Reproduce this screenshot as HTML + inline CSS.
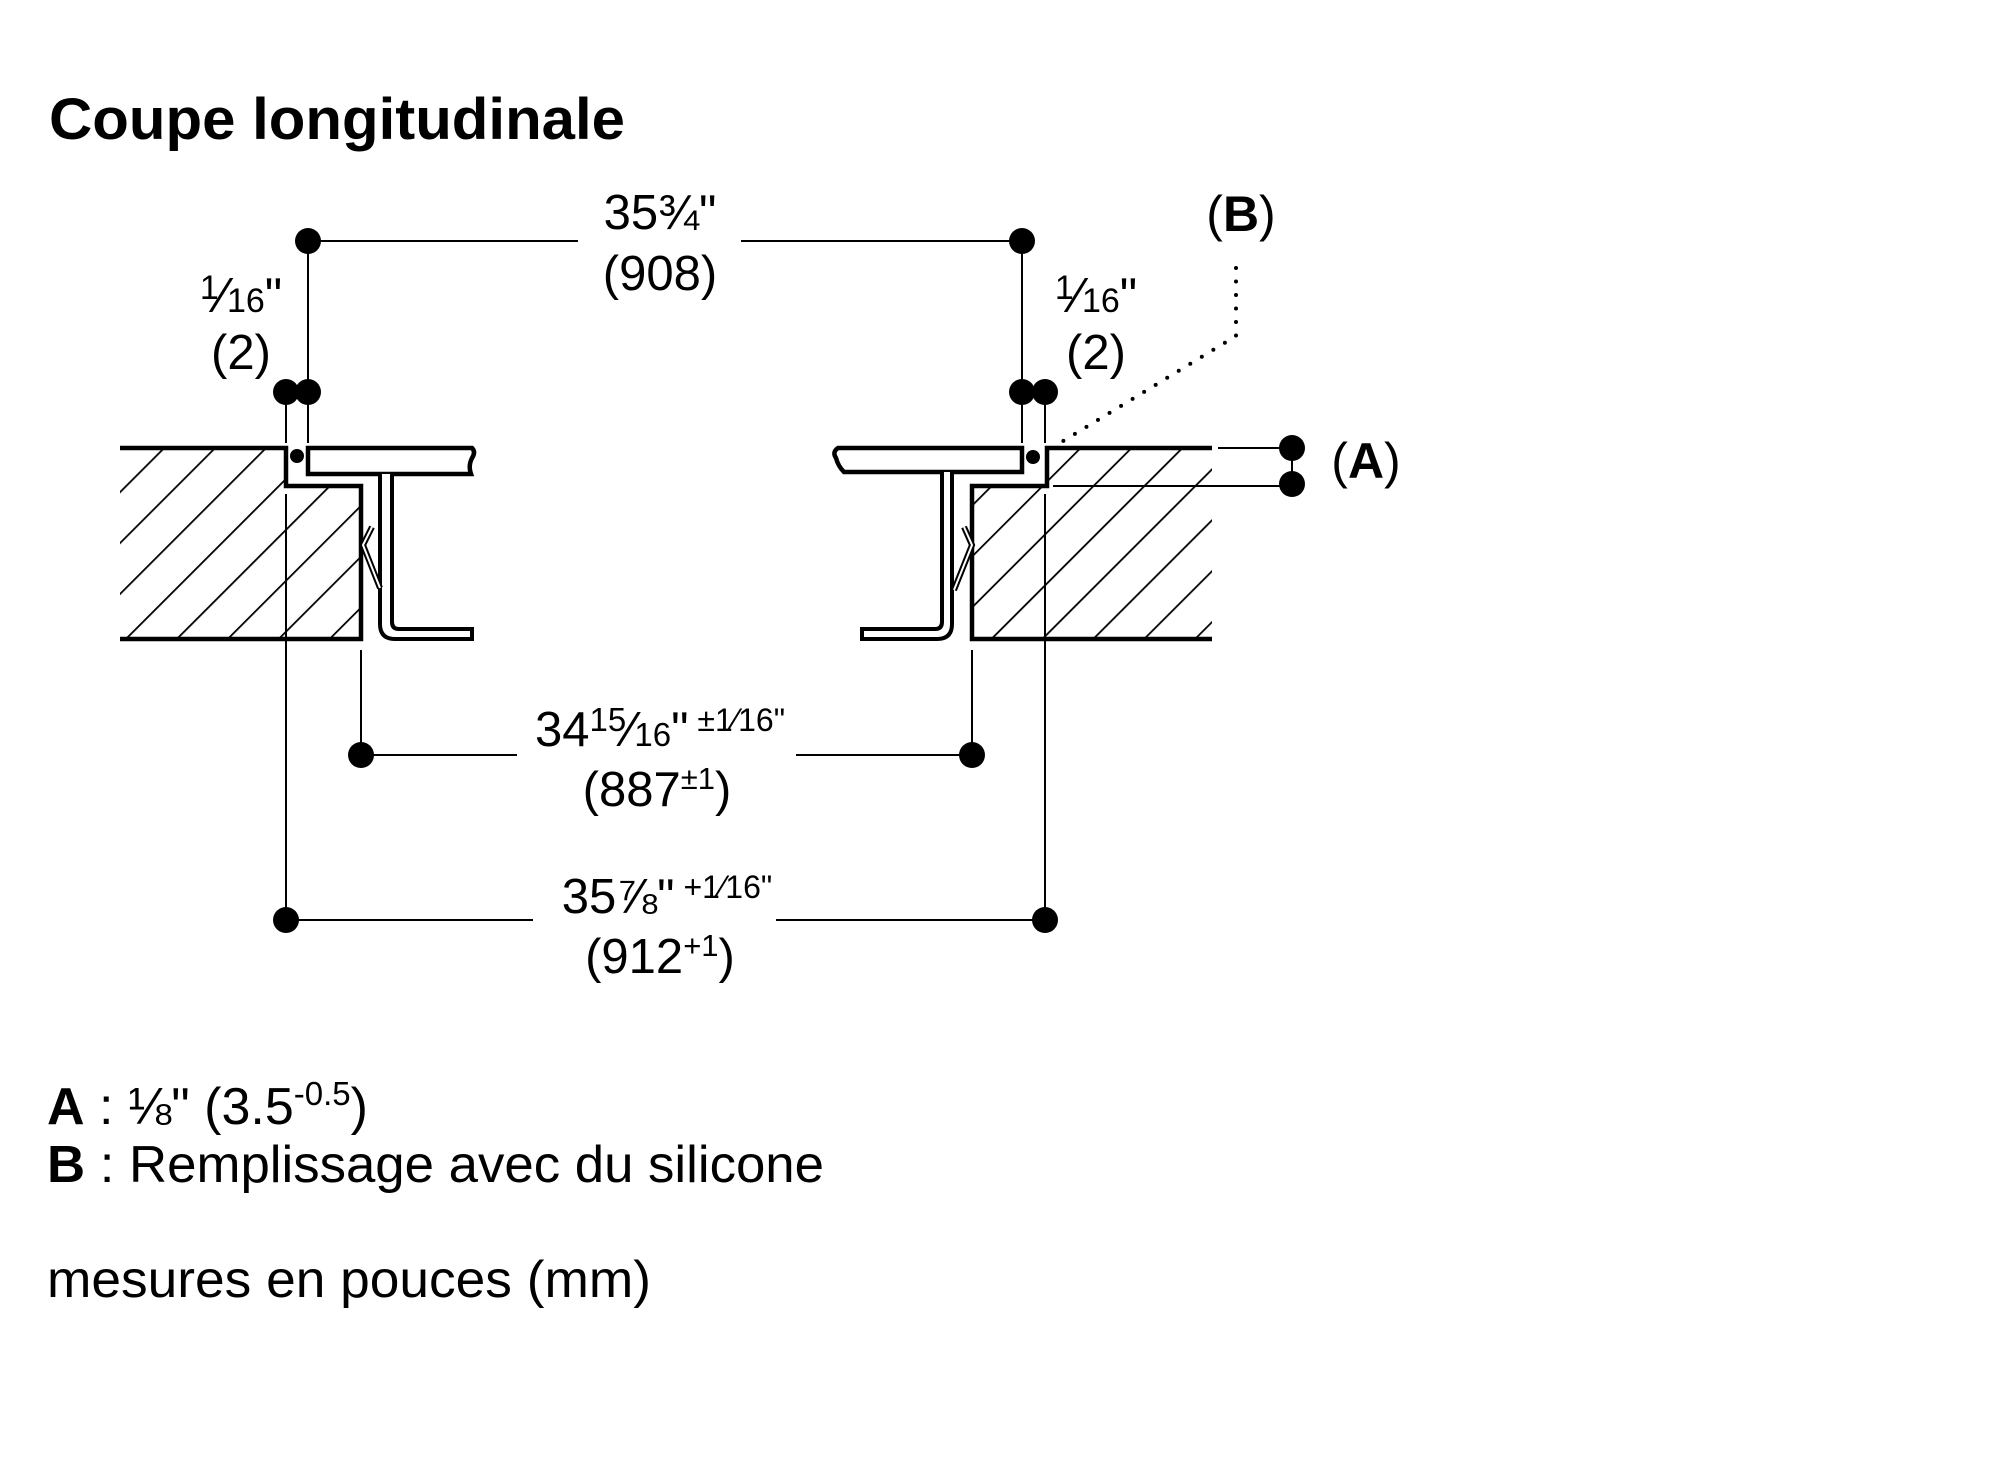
<!DOCTYPE html>
<html><head><meta charset="utf-8"><style>
html,body{margin:0;padding:0;background:#fff;}
svg{display:block;}
text{font-family:"Liberation Sans",Arial,sans-serif;fill:#000;}
</style></head><body>
<svg width="2000" height="1460" viewBox="0 0 2000 1460" xmlns="http://www.w3.org/2000/svg">
<defs>
<pattern id="h" patternUnits="userSpaceOnUse" width="36" height="36" patternTransform="rotate(45)">
<line x1="0" y1="0" x2="0" y2="36" stroke="#000" stroke-width="3.6"/>
</pattern>
<clipPath id="cl"><polygon points="120,448 286,448 286,486 361,486 361,639 120,639"/></clipPath>
<clipPath id="cr"><polygon points="1047,448 1212,448 1212,639 972,639 972,486 1047,486"/></clipPath>
</defs>

<text x="49" y="139" font-size="58" font-weight="bold" textLength="576" lengthAdjust="spacingAndGlyphs">Coupe longitudinale</text>

<rect x="100" y="440" width="280" height="210" fill="url(#h)" clip-path="url(#cl)"/>
<rect x="960" y="440" width="260" height="210" fill="url(#h)" clip-path="url(#cr)"/>
<polyline points="120,448 286,448 286,486 361,486 361,639 120,639" fill="none" stroke="#000" stroke-width="4.5"/>
<polyline points="1212,448 1047,448 1047,486 972,486 972,639 1212,639" fill="none" stroke="#000" stroke-width="4.5"/>

<path d="M308,448 H472 Q476,452 472,458 Q468,466 471,474 H308 Z" fill="#fff" stroke="#000" stroke-width="4.5"/>
<path d="M380,474 V624 Q380,639 395,639 H472 V629 H399 Q392,629 392,622 V474" fill="#fff" stroke="#000" stroke-width="4"/>
<path d="M372,527 L363,545 L380,588" fill="none" stroke="#000" stroke-width="6"/>
<path d="M372,527 L363,545 L380,588" fill="none" stroke="#fff" stroke-width="2"/>
<circle cx="297" cy="456" r="7"/>

<path d="M1022,448 H838 Q832,452 836,458 Q838,466 844,472 H1022 Z" fill="#fff" stroke="#000" stroke-width="4.5"/>
<path d="M952,472 V624 Q952,639 937,639 H862 V629 H935 Q942,629 942,622 V472" fill="#fff" stroke="#000" stroke-width="4"/>
<path d="M964,527 L972,545 L954,590" fill="none" stroke="#000" stroke-width="6"/>
<path d="M964,527 L972,545 L954,590" fill="none" stroke="#fff" stroke-width="2"/>
<circle cx="1033" cy="457" r="7"/>

<g stroke="#000" stroke-width="2">
<line x1="308" y1="241" x2="578" y2="241"/>
<line x1="741" y1="241" x2="1022" y2="241"/>
<line x1="308" y1="241" x2="308" y2="443"/>
<line x1="1022" y1="241" x2="1022" y2="443"/>
<line x1="286" y1="392" x2="286" y2="443"/>
<line x1="1045" y1="392" x2="1045" y2="443"/>
<line x1="286" y1="494" x2="286" y2="920"/>
<line x1="1045" y1="494" x2="1045" y2="920"/>
<line x1="361" y1="650" x2="361" y2="755"/>
<line x1="972" y1="650" x2="972" y2="755"/>
<line x1="361" y1="755" x2="517" y2="755"/>
<line x1="796" y1="755" x2="972" y2="755"/>
<line x1="286" y1="920" x2="533" y2="920"/>
<line x1="776" y1="920" x2="1045" y2="920"/>
<line x1="1218" y1="448" x2="1292" y2="448"/>
<line x1="1053" y1="486" x2="1292" y2="486"/>
<line x1="1292" y1="448" x2="1292" y2="486"/>
</g>
<g>
<circle cx="308" cy="241" r="13"/><circle cx="1022" cy="241" r="13"/>
<circle cx="286" cy="392" r="13"/><circle cx="308" cy="392" r="13"/>
<circle cx="1022" cy="392" r="13"/><circle cx="1045" cy="392" r="13"/>
<circle cx="361" cy="755" r="13"/><circle cx="972" cy="755" r="13"/>
<circle cx="286" cy="920" r="13"/><circle cx="1045" cy="920" r="13"/>
<circle cx="1292" cy="448" r="13"/><circle cx="1292" cy="484" r="13"/>
</g>

<path d="M1236,268 V336 L1055,446" fill="none" stroke="#000" stroke-width="4" stroke-linecap="round" stroke-dasharray="0 13.5"/>

<g font-size="49" text-anchor="middle">
<text x="660" y="229">35¾"</text>
<text x="660" y="290">(908)</text>
<text x="241" y="312"><tspan font-size="34" dy="-13">1</tspan><tspan dy="13">⁄</tspan><tspan font-size="34">16</tspan>"</text>
<text x="241" y="369">(2)</text>
<text x="1096" y="312"><tspan font-size="34" dy="-13">1</tspan><tspan dy="13">⁄</tspan><tspan font-size="34">16</tspan>"</text>
<text x="1096" y="369">(2)</text>
<text x="660" y="746">34<tspan font-size="33" dy="-15">15</tspan><tspan dy="15">⁄</tspan><tspan font-size="33">16</tspan>"<tspan font-size="32" dy="-15"> ±1⁄16"</tspan></text>
<text x="657" y="806">(887<tspan font-size="31" dy="-17">±1</tspan><tspan dy="17">)</tspan></text>
<text x="667" y="913">35⅞"<tspan font-size="32" dy="-15"> +1⁄16"</tspan></text>
<text x="660" y="973">(912<tspan font-size="31" dy="-17">+1</tspan><tspan dy="17">)</tspan></text>
<text x="1241" y="231" font-size="50">(<tspan font-weight="bold">B</tspan>)</text>
<text x="1366" y="478" font-size="50">(<tspan font-weight="bold">A</tspan>)</text>
</g>

<g font-size="52">
<text x="47" y="1124"><tspan font-weight="bold">A</tspan> : ⅛" (3.5<tspan font-size="33" dy="-19">-0.5</tspan><tspan dy="19">)</tspan></text>
<text x="47" y="1182" textLength="777" lengthAdjust="spacingAndGlyphs"><tspan font-weight="bold">B</tspan> : Remplissage avec du silicone</text>
<text x="47" y="1297" textLength="604" lengthAdjust="spacingAndGlyphs">mesures en pouces (mm)</text>
</g>
</svg>
</body></html>
